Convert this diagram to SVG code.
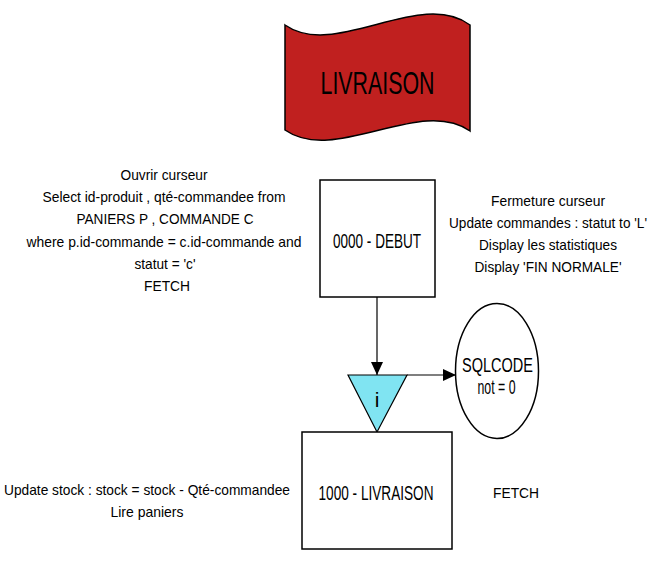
<svg xmlns="http://www.w3.org/2000/svg" width="659" height="576" viewBox="0 0 659 576">
<style>
  .lbl { font-family: "Liberation Sans", Arial, sans-serif; font-size: 15px; fill: #000; text-anchor: middle; }
  .node { font-family: "Liberation Sans", Arial, sans-serif; font-size: 21px; fill: #000; text-anchor: middle; }
  .box { fill: #fff; stroke: #000; stroke-width: 1.5; }
  .conn { stroke: #000; stroke-width: 1.2; fill: none; }
</style>
<defs>
  <marker id="arr" viewBox="0 0 13 12" refX="13" refY="6" markerWidth="13" markerHeight="12" markerUnits="userSpaceOnUse" orient="auto">
    <path d="M0,0 L13,6 L0,12 z" fill="#000"/>
  </marker>
</defs>
<rect width="659" height="576" fill="#fff"/>

<g id="banner">
  <path d="M285,25 C335,60 420,-12 470,25 L470,131 C420,96 335,165 285,130 Z" fill="#C0201F" stroke="#000" stroke-width="1.5"/>
  <text class="node" x="377.5" y="94" style="font-size:32px" textLength="114" lengthAdjust="spacingAndGlyphs">LIVRAISON</text>
</g>

<g id="text-ouvrir">
  <text class="lbl" x="164" y="180" textLength="87" lengthAdjust="spacingAndGlyphs">Ouvrir curseur</text>
  <text class="lbl" x="164" y="202" textLength="243" lengthAdjust="spacingAndGlyphs">Select id-produit , qté-commandee from</text>
  <text class="lbl" x="165" y="224" textLength="177" lengthAdjust="spacingAndGlyphs">PANIERS P , COMMANDE C</text>
  <text class="lbl" x="164" y="247" textLength="275" lengthAdjust="spacingAndGlyphs">where p.id-commande = c.id-commande and</text>
  <text class="lbl" x="165" y="269" textLength="61" lengthAdjust="spacingAndGlyphs">statut = 'c'</text>
  <text class="lbl" x="167" y="291" textLength="46" lengthAdjust="spacingAndGlyphs">FETCH</text>
</g>

<g id="debut">
  <rect class="box" x="320" y="180" width="115" height="117"/>
  <text class="node" x="377" y="248" textLength="88" lengthAdjust="spacingAndGlyphs">0000 - DEBUT</text>
</g>

<g id="text-fermeture">
  <text class="lbl" x="548" y="206" textLength="114" lengthAdjust="spacingAndGlyphs">Fermeture curseur</text>
  <text class="lbl" x="548" y="228" style="font-size:14px" textLength="198" lengthAdjust="spacingAndGlyphs">Update commandes : statut to 'L'</text>
  <text class="lbl" x="548" y="250" textLength="138" lengthAdjust="spacingAndGlyphs">Display les statistiques</text>
  <text class="lbl" x="548" y="272" textLength="147" lengthAdjust="spacingAndGlyphs">Display 'FIN NORMALE'</text>
</g>

<g id="iteration">
  <path d="M348,375 L407,375 L377,432 Z" fill="#80E4F2" stroke="#000" stroke-width="1.2"/>
  <text class="node" x="377" y="407" style="font-size:21px">i</text>
</g>

<g id="sqlcode">
  <ellipse cx="497" cy="371" rx="41.5" ry="67.5" fill="#fff" stroke="#000" stroke-width="1.5"/>
  <text class="node" x="497.5" y="372" style="font-size:20px" textLength="71" lengthAdjust="spacingAndGlyphs">SQLCODE</text>
  <text class="node" x="496.5" y="394" style="font-size:20px" textLength="38" lengthAdjust="spacingAndGlyphs">not = 0</text>
</g>

<g id="livraison">
  <rect class="box" x="302" y="432" width="150" height="117"/>
  <text class="node" x="376" y="500" textLength="115" lengthAdjust="spacingAndGlyphs">1000 - LIVRAISON</text>
</g>

<g id="text-update">
  <text class="lbl" x="147" y="495" textLength="286" lengthAdjust="spacingAndGlyphs">Update stock : stock = stock - Qté-commandee</text>
  <text class="lbl" x="147" y="517" textLength="73" lengthAdjust="spacingAndGlyphs">Lire paniers</text>
</g>

<g id="text-fetch">
  <text class="lbl" x="516" y="498" textLength="46" lengthAdjust="spacingAndGlyphs">FETCH</text>
</g>

<g id="connectors">
  <line class="conn" x1="377" y1="297" x2="377" y2="375" marker-end="url(#arr)"/>
  <line class="conn" x1="407" y1="375" x2="456" y2="375" marker-end="url(#arr)"/>
</g>
</svg>
